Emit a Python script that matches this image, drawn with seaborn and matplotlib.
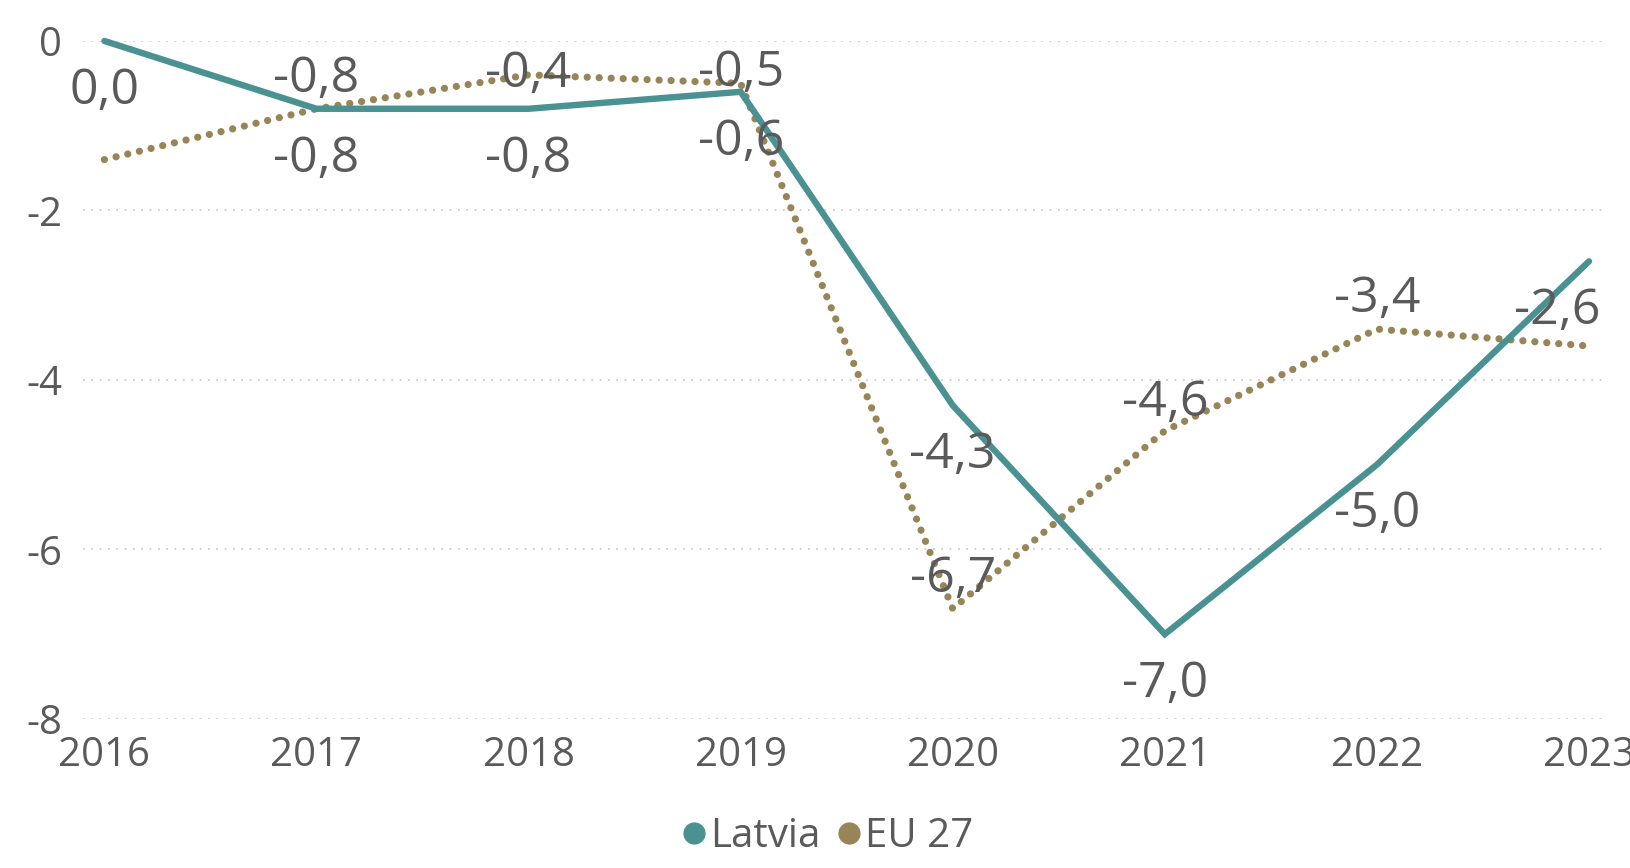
import matplotlib
matplotlib.use("Agg")
import matplotlib.pyplot as plt
import seaborn as sns
import pandas as pd
from matplotlib.lines import Line2D

years = [2016, 2017, 2018, 2019, 2020, 2021, 2022, 2023]
latvia = [0.0, -0.8, -0.8, -0.6, -4.3, -7.0, -5.0, -2.6]
eu27 = [-1.4, -0.8, -0.4, -0.5, -6.7, -4.6, -3.4, -3.6]
latvia_labels = ["0,0", "-0,8", "-0,8", "-0,6", "-4,3", "-7,0", "-5,0", "-2,6"]
eu27_labels = [None, "-0,8", "-0,4", "-0,5", "-6,7", "-4,6", "-3,4", None]
series_names = ["Latvia", "EU 27"]
yticks = [0, -2, -4, -6, -8]

teal = "#4A9192"
gold = "#978558"
txt = "#5A5A5A"

sns.set_theme(style="white")
plt.rcParams["font.family"] = ["Open Sans", "DejaVu Sans"]

df = pd.DataFrame({"year": years * 2,
                   "value": latvia + eu27,
                   "series": [series_names[0]] * len(years) + [series_names[1]] * len(years)})

fig = plt.figure(figsize=(16.31, 8.68), dpi=100)
ax = fig.add_axes([0.051, 0.1717, 0.933, 0.7811])

sns.lineplot(data=df[df.series == "Latvia"], x="year", y="value", color=teal,
             lw=4.6, ax=ax, clip_on=False, solid_capstyle="round", solid_joinstyle="miter", zorder=3)
sns.lineplot(data=df[df.series == "EU 27"], x="year", y="value", color=gold,
             lw=5.2, ax=ax, clip_on=False, linestyle=(0, (0.01, 1.65)),
             dash_capstyle="round", zorder=2)

ax.set_xlim(2015.9, 2023.075)
ax.set_ylim(-8, 0)
ax.set_yticks(yticks)
ax.set_yticklabels([str(v) for v in yticks])
ax.set_xticks(years)
ax.set_xticklabels([str(y) for y in years])
ax.tick_params(axis="both", length=0, labelsize=29, labelcolor=txt)
ax.tick_params(axis="y", pad=15)
ax.tick_params(axis="x", pad=12)
ax.set_xlabel("")
ax.set_ylabel("")
for s in ax.spines.values():
    s.set_visible(False)
ax.yaxis.grid(True, color="#C4C4C4", lw=1.2, linestyle=(0, (1, 4)))
ax.xaxis.grid(False)
if ax.get_legend():
    ax.get_legend().remove()

lat_off = [(0, -50)] * 7 + [(-32, -50)]
eu_off = [None, (0, 30), (0, 1), (0, 10), (0, 30), (0, 28), (0, 30), None]
for y, v, lab, off in zip(years, latvia, latvia_labels, lat_off):
    ax.annotate(lab, (y, v), xytext=off, textcoords="offset pixels", ha="center",
                va="center", fontsize=36, color=txt, zorder=4)
for y, v, lab, off in zip(years, eu27, eu27_labels, eu_off):
    if lab is None:
        continue
    ax.annotate(lab, (y, v), xytext=off, textcoords="offset pixels", ha="center",
                va="center", fontsize=36, color=txt, zorder=4)

handles = [Line2D([], [], marker="o", ls="", color=teal, markersize=15),
           Line2D([], [], marker="o", ls="", color=gold, markersize=15)]
fig.legend(handles, series_names, loc="center", bbox_to_anchor=(0.505, 0.036),
           ncol=2, frameon=False, fontsize=29, labelcolor=txt,
           handletextpad=-0.1, columnspacing=0.2, handlelength=1.0)

fig.savefig("out.png", dpi=100)
